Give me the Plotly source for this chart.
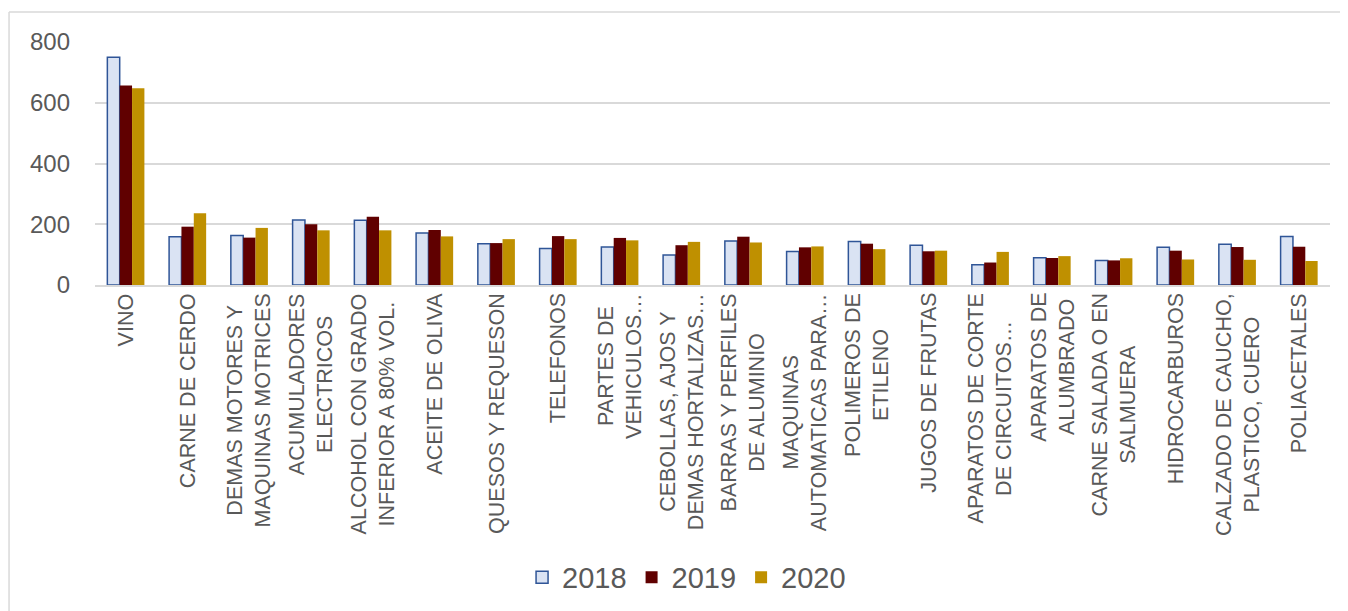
import plotly.graph_objects as go

# categories as shown on the x axis (line breaks as in the original)
categories = [
    "VINO",
    "CARNE DE CERDO",
    "DEMAS MOTORES Y<br>MAQUINAS MOTRICES",
    "ACUMULADORES<br>ELECTRICOS",
    "ALCOHOL CON GRADO<br>INFERIOR A 80% VOL.",
    "ACEITE DE OLIVA",
    "QUESOS Y REQUESON",
    "TELEFONOS",
    "PARTES DE<br>VEHICULOS…",
    "CEBOLLAS, AJOS Y<br>DEMAS HORTALIZAS…",
    "BARRAS Y PERFILES<br>DE ALUMINIO",
    "MAQUINAS<br>AUTOMATICAS PARA…",
    "POLIMEROS DE<br>ETILENO",
    "JUGOS DE FRUTAS",
    "APARATOS DE CORTE<br>DE CIRCUITOS…",
    "APARATOS DE<br>ALUMBRADO",
    "CARNE SALADA O EN<br>SALMUERA",
    "HIDROCARBUROS",
    "CALZADO DE CAUCHO,<br>PLASTICO, CUERO",
    "POLIACETALES",
]

vals_2018 = [750, 159, 163, 214, 213, 171, 136, 120, 125, 99,
             145, 110, 143, 131, 67, 90, 81, 124, 134, 160]
vals_2019 = [657, 192, 156, 200, 225, 181, 138, 161, 155, 131,
             159, 124, 136, 111, 74, 89, 81, 113, 125, 126]
vals_2020 = [648, 236, 188, 180, 180, 160, 151, 151, 147, 142,
             140, 127, 118, 113, 109, 95, 88, 84, 83, 79]

y_ticks = [0, 200, 400, 600, 800]

TEXT = '#595959'
GRID = '#D9D9D9'
FONT = 'Liberation Sans, Arial, sans-serif'

fig = go.Figure()

fig.add_trace(go.Bar(
    x=categories, y=vals_2018, name='2018',
    marker=dict(color='#DAE3F3', line=dict(color='#2F5597', width=1.5)),
))
fig.add_trace(go.Bar(
    x=categories, y=vals_2019, name='2019',
    marker=dict(color='#600000', line=dict(width=0)),
))
fig.add_trace(go.Bar(
    x=categories, y=vals_2020, name='2020',
    marker=dict(color='#BF9000', line=dict(width=0)),
))

# category labels: rotated, lines centred on each other (as in Excel)
for cat in categories:
    fig.add_annotation(
        x=cat, y=0, xref='x', yref='paper',
        text=cat, textangle=-90,
        xanchor='center', yanchor='top', align='center',
        yshift=-6, showarrow=False,
        font=dict(size=21.5, color=TEXT, family=FONT),
    )

# light frame of the chart area: only its top and left edges are in view
fig.add_shape(type='line', xref='paper', yref='paper',
              x0=-0.0696, x1=1.2, y0=1.1235, y1=1.1235,
              line=dict(color=GRID, width=1.5), layer='below')
fig.add_shape(type='line', xref='paper', yref='paper',
              x0=-0.0696, x1=-0.0696, y0=-1.40, y1=1.1235,
              line=dict(color=GRID, width=1.5), layer='below')

# the page adds an 8px body margin, so the margins are 8px smaller
fig.update_layout(
    width=1348, height=611,
    margin=dict(l=87, r=26, t=34, b=334, autoexpand=False),
    paper_bgcolor='white',
    plot_bgcolor='white',
    font=dict(family=FONT, color=TEXT),
    barmode='group',
    bargap=0.4,
    bargroupgap=0,
    showlegend=True,
    legend=dict(
        orientation='h',
        x=0.479, xanchor='center',
        y=-1.203, yanchor='middle',
        font=dict(size=29, color=TEXT),
        itemwidth=30,
        tracegroupgap=0,
    ),
    xaxis=dict(
        showticklabels=False,
        showgrid=False,
        showline=True, linecolor=GRID, linewidth=1.5,
        ticks='',
        automargin=False,
    ),
    yaxis=dict(
        range=[0, 800],
        tickvals=y_ticks,
        tickfont=dict(size=24, color=TEXT),
        showgrid=True, gridcolor=GRID, gridwidth=1.5,
        zeroline=False,
        showline=False,
        ticks='',
        ticklabelstandoff=24,
        automargin=False,
    ),
)

fig.write_html("out.html")
